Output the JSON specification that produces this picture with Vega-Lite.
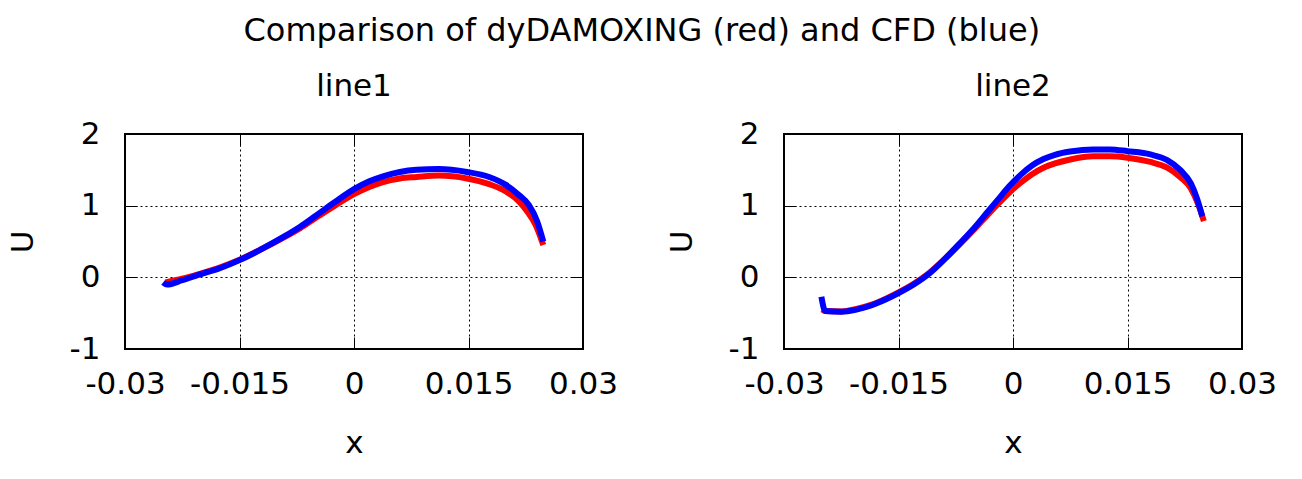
{
  "$schema": "https://vega.github.io/schema/vega-lite/v6.json",
  "padding": {"left": 6, "top": 15, "right": 0, "bottom": 0},
  "background": "#ffffff",
  "title": {"text": "Comparison of dyDAMOXING (red) and CFD (blue)", "fontSize": 32, "fontWeight": "normal", "color": "#000000", "font": "DejaVu Sans", "anchor": "middle", "offset": 22},
  "spacing": 201,
  "bounds": "flush",
  "datasets": {
    "p1": [
      {"s": "red", "x": -0.0247, "U": -0.07},
      {"s": "red", "x": -0.0225, "U": -0.02},
      {"s": "red", "x": -0.0203, "U": 0.045},
      {"s": "red", "x": -0.0175, "U": 0.14},
      {"s": "red", "x": -0.015, "U": 0.245},
      {"s": "red", "x": -0.012, "U": 0.40},
      {"s": "red", "x": -0.0093, "U": 0.55},
      {"s": "red", "x": -0.007, "U": 0.69},
      {"s": "red", "x": -0.005, "U": 0.83},
      {"s": "red", "x": -0.0025, "U": 1.00},
      {"s": "red", "x": 0, "U": 1.16},
      {"s": "red", "x": 0.002, "U": 1.26},
      {"s": "red", "x": 0.0038, "U": 1.33},
      {"s": "red", "x": 0.006, "U": 1.38},
      {"s": "red", "x": 0.0082, "U": 1.40},
      {"s": "red", "x": 0.0111, "U": 1.42},
      {"s": "red", "x": 0.0148, "U": 1.38},
      {"s": "red", "x": 0.0177, "U": 1.30},
      {"s": "red", "x": 0.0199, "U": 1.20},
      {"s": "red", "x": 0.0216, "U": 1.06},
      {"s": "red", "x": 0.0227, "U": 0.92},
      {"s": "red", "x": 0.0238, "U": 0.73},
      {"s": "red", "x": 0.0248, "U": 0.45},
      {"s": "blue", "x": -0.0250, "U": -0.07},
      {"s": "blue", "x": -0.0245, "U": -0.10},
      {"s": "blue", "x": -0.0225, "U": -0.04},
      {"s": "blue", "x": -0.0203, "U": 0.037},
      {"s": "blue", "x": -0.0175, "U": 0.13},
      {"s": "blue", "x": -0.015, "U": 0.24},
      {"s": "blue", "x": -0.012, "U": 0.40},
      {"s": "blue", "x": -0.0093, "U": 0.56},
      {"s": "blue", "x": -0.007, "U": 0.71},
      {"s": "blue", "x": -0.005, "U": 0.86},
      {"s": "blue", "x": -0.0025, "U": 1.05},
      {"s": "blue", "x": 0, "U": 1.23},
      {"s": "blue", "x": 0.002, "U": 1.34},
      {"s": "blue", "x": 0.0038, "U": 1.41},
      {"s": "blue", "x": 0.006, "U": 1.47},
      {"s": "blue", "x": 0.0082, "U": 1.50},
      {"s": "blue", "x": 0.0111, "U": 1.51},
      {"s": "blue", "x": 0.0148, "U": 1.47},
      {"s": "blue", "x": 0.0177, "U": 1.40},
      {"s": "blue", "x": 0.0199, "U": 1.29},
      {"s": "blue", "x": 0.0216, "U": 1.15},
      {"s": "blue", "x": 0.0229, "U": 1.01},
      {"s": "blue", "x": 0.0240, "U": 0.78},
      {"s": "blue", "x": 0.0248, "U": 0.50}
    ],
    "p2": [
      {"s": "red", "x": -0.0250, "U": -0.45},
      {"s": "red", "x": -0.0246, "U": -0.47},
      {"s": "red", "x": -0.0225, "U": -0.475},
      {"s": "red", "x": -0.0205, "U": -0.44},
      {"s": "red", "x": -0.0185, "U": -0.38},
      {"s": "red", "x": -0.0165, "U": -0.29},
      {"s": "red", "x": -0.015, "U": -0.21},
      {"s": "red", "x": -0.013, "U": -0.09},
      {"s": "red", "x": -0.011, "U": 0.06},
      {"s": "red", "x": -0.009, "U": 0.25},
      {"s": "red", "x": -0.007, "U": 0.46},
      {"s": "red", "x": -0.005, "U": 0.68},
      {"s": "red", "x": -0.0035, "U": 0.85},
      {"s": "red", "x": -0.002, "U": 1.02},
      {"s": "red", "x": -0.0005, "U": 1.18},
      {"s": "red", "x": 0.001, "U": 1.32},
      {"s": "red", "x": 0.0025, "U": 1.44},
      {"s": "red", "x": 0.004, "U": 1.53},
      {"s": "red", "x": 0.0055, "U": 1.59},
      {"s": "red", "x": 0.0075, "U": 1.645},
      {"s": "red", "x": 0.0105, "U": 1.69},
      {"s": "red", "x": 0.0127, "U": 1.69},
      {"s": "red", "x": 0.015, "U": 1.67},
      {"s": "red", "x": 0.018, "U": 1.61},
      {"s": "red", "x": 0.0202, "U": 1.53},
      {"s": "red", "x": 0.0219, "U": 1.40},
      {"s": "red", "x": 0.0233, "U": 1.24},
      {"s": "red", "x": 0.0243, "U": 1.01},
      {"s": "red", "x": 0.0250, "U": 0.785},
      {"s": "blue", "x": -0.0251, "U": -0.27},
      {"s": "blue", "x": -0.0246, "U": -0.47},
      {"s": "blue", "x": -0.0225, "U": -0.48},
      {"s": "blue", "x": -0.0205, "U": -0.45},
      {"s": "blue", "x": -0.0185, "U": -0.39},
      {"s": "blue", "x": -0.0165, "U": -0.30},
      {"s": "blue", "x": -0.015, "U": -0.22},
      {"s": "blue", "x": -0.013, "U": -0.10},
      {"s": "blue", "x": -0.011, "U": 0.05},
      {"s": "blue", "x": -0.009, "U": 0.25},
      {"s": "blue", "x": -0.007, "U": 0.47},
      {"s": "blue", "x": -0.005, "U": 0.70},
      {"s": "blue", "x": -0.0035, "U": 0.89},
      {"s": "blue", "x": -0.002, "U": 1.08},
      {"s": "blue", "x": -0.0005, "U": 1.27},
      {"s": "blue", "x": 0.001, "U": 1.43},
      {"s": "blue", "x": 0.0025, "U": 1.56},
      {"s": "blue", "x": 0.004, "U": 1.65},
      {"s": "blue", "x": 0.0055, "U": 1.71},
      {"s": "blue", "x": 0.0075, "U": 1.755},
      {"s": "blue", "x": 0.0105, "U": 1.785},
      {"s": "blue", "x": 0.0127, "U": 1.785},
      {"s": "blue", "x": 0.015, "U": 1.76},
      {"s": "blue", "x": 0.018, "U": 1.715},
      {"s": "blue", "x": 0.0202, "U": 1.636},
      {"s": "blue", "x": 0.0219, "U": 1.50},
      {"s": "blue", "x": 0.0233, "U": 1.31},
      {"s": "blue", "x": 0.0241, "U": 1.10},
      {"s": "blue", "x": 0.0248, "U": 0.85}
    ]
  },
  "config": {
    "font": "DejaVu Sans",
    "view": {"stroke": "#000000", "strokeWidth": 2},
    "title": {"fontSize": 31, "fontWeight": "normal", "color": "#000000", "font": "DejaVu Sans"},
    "axis": {
      "labelFont": "DejaVu Sans",
      "titleFont": "DejaVu Sans",
      "labelFontSize": 31,
      "titleFontSize": 31,
      "titleFontWeight": "normal",
      "labelColor": "#000000",
      "titleColor": "#000000",
      "domain": false,
      "gridColor": "#000000",
      "gridOpacity": 1,
      "gridWidth": 1,
      "gridDash": [2, 3],
      "tickColor": "#000000",
      "tickWidth": 1,
      "tickSize": -12,
      "labelExpr": "replace(datum.label, '\u2212', '-')"
    }
  },
  "hconcat": [
    {
      "title": {"text": "line1", "offset": 15},
      "width": 458,
      "height": 215,
      "data": {"name": "p1"},
      "layer": [
        {
          "transform": [{"filter": "datum.s === 'red'"}],
          "mark": {"type": "line", "color": "#ff0000", "strokeWidth": 6, "interpolate": "monotone"},
          "encoding": {
            "x": {"field": "x", "type": "quantitative", "scale": {"domain": [-0.03, 0.03], "nice": false, "zero": false},
                  "axis": {"orient": "bottom", "title": "x", "values": [-0.03, -0.015, 0, 0.015, 0.03], "labelExpr": "replace(format(datum.value, '~g'), '\u2212', '-')", "grid": true, "labelPadding": 32, "titlePadding": 29, "labelFlush": false, "labelOverlap": false}},
            "y": {"field": "U", "type": "quantitative", "scale": {"domain": [-1, 2], "nice": false, "zero": false},
                  "axis": {"orient": "left", "title": "U", "values": [-1, 0, 1, 2], "grid": true, "labelPadding": 37, "titlePadding": 30, "labelFlush": false, "labelOverlap": false}}
          }
        },
        {
          "transform": [{"filter": "datum.s === 'blue'"}],
          "mark": {"type": "line", "color": "#0000ff", "strokeWidth": 6, "interpolate": "monotone"},
          "encoding": {
            "x": {"field": "x", "type": "quantitative", "axis": {"orient": "top", "title": null, "labels": false, "grid": false, "values": [-0.03, -0.015, 0, 0.015, 0.03]}},
            "y": {"field": "U", "type": "quantitative", "axis": {"orient": "right", "title": null, "labels": false, "grid": false, "values": [-1, 0, 1, 2]}}
          }
        }
      ]
    },
    {
      "title": {"text": "line2", "offset": 15},
      "width": 458,
      "height": 215,
      "data": {"name": "p2"},
      "layer": [
        {
          "transform": [{"filter": "datum.s === 'red'"}],
          "mark": {"type": "line", "color": "#ff0000", "strokeWidth": 6, "interpolate": "monotone"},
          "encoding": {
            "x": {"field": "x", "type": "quantitative", "scale": {"domain": [-0.03, 0.03], "nice": false, "zero": false},
                  "axis": {"orient": "bottom", "title": "x", "values": [-0.03, -0.015, 0, 0.015, 0.03], "labelExpr": "replace(format(datum.value, '~g'), '\u2212', '-')", "grid": true, "labelPadding": 32, "titlePadding": 29, "labelFlush": false, "labelOverlap": false}},
            "y": {"field": "U", "type": "quantitative", "scale": {"domain": [-1, 2], "nice": false, "zero": false},
                  "axis": {"orient": "left", "title": "U", "values": [-1, 0, 1, 2], "grid": true, "labelPadding": 37, "titlePadding": 30, "labelFlush": false, "labelOverlap": false}}
          }
        },
        {
          "transform": [{"filter": "datum.s === 'blue'"}],
          "mark": {"type": "line", "color": "#0000ff", "strokeWidth": 6, "interpolate": "monotone"},
          "encoding": {
            "x": {"field": "x", "type": "quantitative", "axis": {"orient": "top", "title": null, "labels": false, "grid": false, "values": [-0.03, -0.015, 0, 0.015, 0.03]}},
            "y": {"field": "U", "type": "quantitative", "axis": {"orient": "right", "title": null, "labels": false, "grid": false, "values": [-1, 0, 1, 2]}}
          }
        }
      ]
    }
  ]
}
